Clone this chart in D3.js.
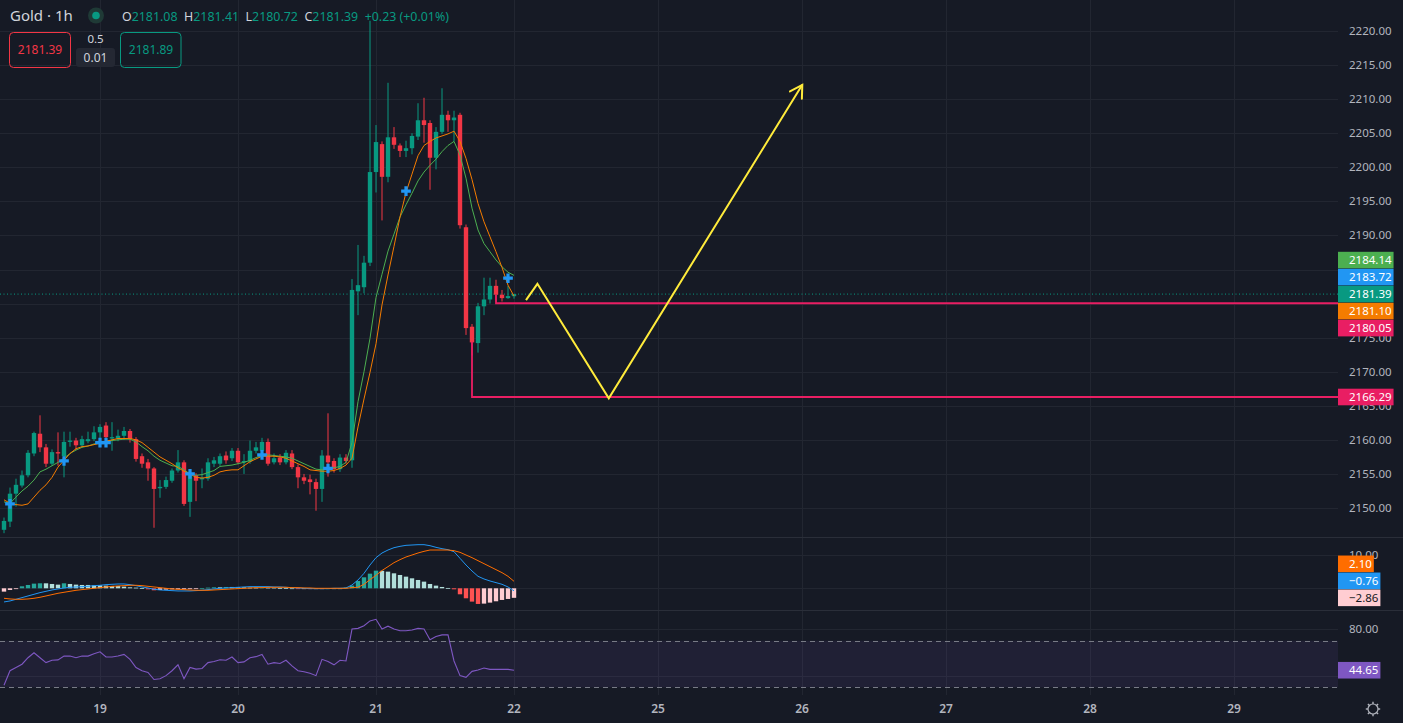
<!DOCTYPE html>
<html>
<head>
<meta charset="utf-8">
<script src="https://cdn.jsdelivr.net/npm/d3@7"></script>
<style>
  html, body { margin: 0; padding: 0; background: #161A25; overflow: hidden; }
  text { font-family: "Noto Sans", "Open Sans", sans-serif; }
</style>
</head>
<body>
<script>
// ---- data (hourly bars, index 0 = first visible bar) ----
var dayLabels = ["19", "20", "21", "22", "25", "26", "27", "28", "29"];
var dayBarIdx = [16, 39, 62, 85, 109, 133, 157, 181, 205];

var open = [2146.8, 2148.0, 2152.1, 2153.3, 2154.8, 2158.0, 2160.9, 2158.9, 2156.5, 2158.2,
  2157.6, 2159.7, 2159.9, 2159.2, 2159.8, 2160.1, 2161.1, 2162.1, 2160.2, 2160.2,
  2160.6, 2161.3, 2160.1, 2157.6, 2156.7, 2155.8, 2152.9, 2153.1, 2154.0, 2155.5,
  2156.7, 2150.9, 2154.8, 2154.2, 2154.3, 2156.5, 2156.5, 2157.7, 2157.3, 2158.4,
  2156.7, 2156.8, 2158.4, 2158.4, 2159.7, 2156.7, 2157.4, 2156.7, 2158.0, 2156.0,
  2154.5, 2154.2, 2153.8, 2152.8, 2157.7, 2156.9, 2155.7, 2157.4, 2157.0, 2181.8,
  2182.4, 2186.0, 2199.3, 2203.4, 2198.6, 2204.4, 2203.2, 2202.4, 2202.8, 2204.5,
  2206.9, 2206.5, 2201.4, 2205.2, 2207.7, 2206.9, 2207.7, 2191.2, 2176.6, 2174.2,
  2179.6, 2180.6, 2182.6, 2181.3, 2180.8, 2181.08];
var high = [2148.6, 2153.0, 2154.3, 2155.5, 2158.5, 2161.2, 2163.6, 2159.4, 2158.6, 2161.1,
  2161.2, 2161.2, 2160.3, 2160.6, 2161.2, 2162.0, 2162.3, 2162.6, 2162.6, 2161.5,
  2161.9, 2161.6, 2160.4, 2158.0, 2157.2, 2156.0, 2154.1, 2154.6, 2155.8, 2158.5,
  2157.0, 2155.5, 2155.1, 2155.8, 2157.3, 2157.5, 2158.0, 2158.3, 2158.8, 2158.8,
  2157.9, 2159.9, 2159.7, 2160.3, 2160.2, 2158.0, 2157.9, 2158.5, 2158.5, 2156.4,
  2155.0, 2154.9, 2154.3, 2158.5, 2163.9, 2157.3, 2157.9, 2157.9, 2183.6, 2188.6,
  2187.0, 2221.5, 2206.2, 2203.8, 2212.4, 2205.9, 2203.5, 2203.9, 2205.0, 2209.4,
  2210.2, 2206.9, 2205.9, 2211.6, 2208.3, 2208.3, 2208.0, 2191.6, 2177.0, 2180.1,
  2183.8, 2183.8, 2183.5, 2182.0, 2182.6, 2181.41];
var low = [2146.3, 2147.2, 2150.2, 2153.0, 2154.5, 2157.6, 2158.2, 2156.0, 2156.2, 2156.2,
  2154.5, 2159.0, 2158.5, 2158.9, 2159.5, 2159.8, 2159.5, 2159.6, 2158.4, 2159.8,
  2160.0, 2159.6, 2156.8, 2155.9, 2154.0, 2147.1, 2151.5, 2152.8, 2153.7, 2155.2,
  2150.3, 2148.7, 2151.0, 2152.9, 2154.0, 2156.0, 2156.2, 2156.5, 2156.9, 2156.4,
  2155.0, 2156.5, 2158.0, 2157.7, 2156.2, 2156.4, 2156.3, 2156.4, 2155.7, 2152.9,
  2153.5, 2152.0, 2149.6, 2150.9, 2154.6, 2155.2, 2155.3, 2156.5, 2155.9, 2178.3,
  2181.5, 2185.5, 2196.3, 2192.2, 2197.8, 2202.7, 2201.5, 2201.5, 2201.9, 2204.0,
  2203.6, 2196.7, 2199.7, 2204.9, 2205.2, 2203.8, 2191.0, 2175.4, 2172.4, 2172.8,
  2178.3, 2180.0, 2180.3, 2180.3, 2180.7, 2180.72];
var close = [2148.1, 2152.1, 2153.4, 2154.8, 2158.1, 2161.0, 2158.9, 2156.5, 2158.2, 2158.0,
  2159.7, 2159.9, 2159.2, 2160.1, 2160.1, 2161.1, 2161.9, 2160.4, 2160.4, 2160.6,
  2161.3, 2160.1, 2157.2, 2156.5, 2155.8, 2152.8, 2153.1, 2154.1, 2155.5, 2156.7,
  2150.6, 2155.0, 2154.0, 2154.4, 2156.7, 2157.0, 2157.6, 2157.0, 2158.4, 2156.7,
  2156.9, 2158.4, 2158.9, 2159.7, 2156.5, 2157.3, 2156.7, 2158.1, 2156.0, 2154.5,
  2154.0, 2153.8, 2152.8, 2157.7, 2156.7, 2155.7, 2157.4, 2156.9, 2182.0, 2182.7,
  2186.0, 2199.3, 2203.7, 2198.6, 2204.4, 2203.3, 2202.4, 2202.8, 2204.6, 2206.9,
  2206.2, 2201.4, 2205.2, 2207.7, 2206.9, 2207.3, 2191.5, 2176.4, 2174.3, 2179.6,
  2180.6, 2182.6, 2181.3, 2180.8, 2181.1, 2181.39];

var maGreen = [2150.9, 2150.7, 2151.6, 2152.5, 2153.2, 2154.1, 2155.3, 2155.7, 2156.2, 2156.7,
  2157.3, 2158.0, 2158.5, 2158.9, 2159.1, 2159.4, 2159.6, 2159.8, 2159.9, 2160.0,
  2160.1, 2160.1, 2159.7, 2159.0, 2158.4, 2157.6, 2157.0, 2156.6, 2156.2, 2156.1,
  2155.6, 2155.0, 2154.8, 2154.9, 2155.2, 2155.5, 2156.1, 2156.2, 2156.3, 2156.5,
  2156.7, 2157.0, 2157.4, 2157.7, 2157.8, 2157.7, 2157.6, 2157.5, 2157.3, 2156.9,
  2156.5, 2156.1, 2155.7, 2155.6, 2155.8, 2155.9, 2156.1, 2156.7, 2159.6, 2165.6,
  2170.0, 2174.9, 2180.9, 2184.3, 2187.7, 2190.2, 2192.7, 2194.5, 2196.2, 2198.0,
  2199.3, 2200.3, 2201.2, 2202.3, 2203.2, 2203.8, 2201.8, 2198.4, 2194.0, 2190.8,
  2188.8, 2187.6, 2186.4, 2185.4, 2184.6, 2184.14];
var maOrange = [2151.2, 2150.7, 2150.5, 2150.4, 2150.6, 2151.6, 2152.6, 2153.4, 2154.5, 2156.0,
  2157.0, 2158.0, 2158.7, 2159.0, 2159.1, 2159.3, 2159.5, 2159.8, 2160.0, 2160.2,
  2160.2, 2160.2, 2160.0, 2159.6, 2158.9, 2158.2, 2157.5, 2157.0, 2156.5, 2155.9,
  2155.4, 2155.0, 2154.5, 2154.4, 2154.5, 2154.8, 2155.3, 2155.5, 2155.6, 2155.6,
  2156.2, 2156.8, 2157.2, 2157.6, 2157.6, 2157.6, 2157.5, 2157.3, 2156.9, 2156.5,
  2156.1, 2155.6, 2155.5, 2155.4, 2155.4, 2155.5, 2155.8, 2156.3, 2157.3, 2161.9,
  2166.0, 2169.9, 2174.1, 2179.8, 2184.2, 2188.4, 2192.7, 2196.3, 2199.0, 2201.7,
  2203.2, 2203.8, 2204.3, 2204.6, 2204.9, 2205.3, 2203.8, 2201.3, 2198.2, 2194.7,
  2192.0, 2189.8, 2187.6, 2185.3, 2182.7, 2181.10];

var crossIdx = [1, 10, 16, 17, 31, 43, 54, 67, 84];
var crossPrice = [2150.6, 2156.9, 2159.6, 2159.6, 2155.0, 2157.8, 2155.8, 2196.5, 2183.72];

var levelPrice = [2166.29, 2180.05];
var levelFromIdx = [78, 82];
var levelFromPrice = [2174.4, 2181.3];

var pathIdx = [87, 88.9, 100.8, 133.05];
var pathPrice = [2180.5, 2182.9, 2166.1, 2212.1];

var macdLine = [-4.1, -3.8, -3.3, -2.8, -2.3, -1.8, -1.3, -0.9, -0.5, -0.2,
  0.1, 0.3, 0.4, 0.5, 0.6, 0.8, 0.9, 1.1, 1.2, 1.3,
  1.3, 1.1, 0.8, 0.4, 0.1, -0.3, -0.5, -0.6, -0.7, -0.8,
  -0.8, -0.8, -0.7, -0.6, -0.4, -0.2, 0.0, 0.1, 0.2, 0.3,
  0.4, 0.5, 0.5, 0.5, 0.5, 0.4, 0.4, 0.3, 0.2, 0.1,
  0.0, -0.1, -0.1, -0.1, -0.1, 0.0, 0.0, 0.1, 1.0, 2.5,
  4.5, 7.0, 9.2, 10.6, 11.5, 12.2, 12.6, 12.9, 13.0, 13.1,
  13.1, 12.8, 12.3, 11.9, 11.6, 11.0, 9.0, 7.0, 5.2, 3.6,
  2.8, 2.2, 1.7, 1.2, 0.4, -0.76];
var signalLine = [-3.0, -3.2, -3.3, -3.3, -3.2, -3.0, -2.7, -2.3, -1.9, -1.5,
  -1.2, -0.9, -0.6, -0.4, -0.2, 0.0, 0.2, 0.4, 0.6, 0.7,
  0.8, 0.9, 0.9, 0.8, 0.6, 0.4, 0.2, 0.0, -0.2, -0.3,
  -0.4, -0.5, -0.6, -0.6, -0.6, -0.5, -0.4, -0.3, -0.2, -0.1,
  0.0, 0.1, 0.2, 0.2, 0.3, 0.3, 0.3, 0.3, 0.2, 0.2,
  0.1, 0.1, 0.0, 0.0, 0.0, 0.0, 0.0, 0.0, 0.2, 0.3,
  1.2, 2.6, 3.9, 5.35, 6.5, 7.7, 8.6, 9.4, 10.0, 10.6,
  11.1, 11.5, 11.5, 11.5, 11.5, 11.3, 10.8, 10.0, 9.2, 8.3,
  7.4, 6.5, 5.6, 4.7, 3.6, 2.10];
var histValues = [-1.0, -0.5, -0.1, 0.6, 1.0, 1.4, 1.5, 1.5, 1.3, 1.1,
  1.5, 1.3, 1.1, 1.0, 1.0, 0.9, 0.9, 0.8, 0.7, 0.7,
  0.5, 0.3, 0.2, 0.1, -0.3, -0.6, -0.5, -0.4, -0.3, -0.3,
  -0.3, -0.2, -0.1, 0.0, 0.2, 0.3, 0.3, 0.4, 0.4, 0.3,
  0.3, 0.2, 0.2, 0.3, 0.2, 0.2, 0.1, 0.1, 0.0, -0.1,
  -0.1, -0.2, -0.1, -0.1, 0.0, 0.0, 0.0, 0.2, 0.8, 2.2,
  3.3, 4.4, 5.3, 5.25, 5.0, 4.5, 4.0, 3.5, 3.0, 2.5,
  2.0, 1.3, 0.8, 0.4, 0.1, -0.3, -1.8, -3.0, -4.0, -4.7,
  -4.6, -4.3, -3.9, -3.5, -3.2, -2.86];

var rsiValues = [31.7, 44.2, 47.0, 49.8, 55.4, 59.6, 55.4, 51.2, 53.2, 53.5,
  56.8, 56.8, 55.4, 56.8, 56.8, 58.8, 60.5, 56.0, 56.0, 56.8,
  58.2, 54.0, 47.0, 44.2, 42.8, 36.7, 37.3, 40.0, 44.2, 49.3,
  37.3, 47.0, 45.6, 46.2, 51.2, 52.1, 53.7, 53.2, 56.0, 51.2,
  51.8, 55.4, 56.3, 58.2, 49.8, 51.2, 50.4, 53.2, 48.4, 44.2,
  43.4, 42.0, 40.0, 54.0, 52.1, 49.3, 53.2, 52.6, 80.0, 80.6,
  82.8, 87.0, 88.4, 80.0, 82.5, 80.0, 78.6, 78.6, 79.2, 80.6,
  80.0, 70.8, 73.6, 75.0, 75.0, 52.6, 40.0, 38.6, 43.7, 44.8,
  46.5, 45.4, 45.4, 45.4, 45.4, 44.65];

var priceTicks = d3.range(2150, 2221, 5);
var macdTicks = [0, 10];
var rsiTicks = [40, 80];
var rsiBands = [30, 70];

var symbolName = "Gold · 1h";
var changeText = "+0.23 (+0.01%)";
var bidPrice = 2181.39, askPrice = 2181.89;
var spreadTop = "0.5", spreadBottom = "0.01";

// ---- layout ----
var W = 1403, H = 723, plotR = 1338;
var C = { bg: "#161A25", grid: "#222631", sep: "#2A2E39", text: "#B2B5BE", head: "#D1D4DC",
  up: "#089981", down: "#F23645", green: "#4CAF50", orange: "#F57C00", blue: "#2196F3",
  pink: "#E91E63", yellow: "#FFEB3B", macdSig: "#FF6D00", rsi: "#7E57C2" };

var x = d3.scaleLinear().domain([0, 205]).range([4, 1234]);
var y = d3.scaleLinear().domain([2150, 2220]).range([508, 31]);
var yM = d3.scaleLinear().domain([0, 10]).range([588.3, 555]);
var yR = d3.scaleLinear().domain([30, 70]).range([687.3, 640.7]);
var fmt = d3.format(".2f");
function lbl(v) { return fmt(v).replace("-", "\u2212"); }

var svg = d3.select("body").append("svg").attr("width", W).attr("height", H);
svg.append("rect").attr("width", W).attr("height", H).attr("fill", C.bg);

var defs = svg.append("defs");
defs.append("clipPath").attr("id", "cMain").append("rect").attr("width", plotR).attr("height", 537);
defs.append("clipPath").attr("id", "cMacd").append("rect").attr("y", 538).attr("width", plotR).attr("height", 72);
defs.append("clipPath").attr("id", "cRsi").append("rect").attr("y", 611).attr("width", plotR).attr("height", 84);

// grid
var grid = svg.append("g").attr("stroke", C.grid).attr("stroke-width", 1);
grid.selectAll(".v").data(dayBarIdx).enter().append("line")
  .attr("x1", function(d) { return Math.round(x(d)) + 0.5; }).attr("x2", function(d) { return Math.round(x(d)) + 0.5; })
  .attr("y1", 0).attr("y2", 695);
function hGrid(ticks, sc) {
  grid.selectAll(null).data(ticks).enter().append("line")
    .attr("x1", 0).attr("x2", plotR)
    .attr("y1", function(d) { return Math.round(sc(d)) + 0.5; }).attr("y2", function(d) { return Math.round(sc(d)) + 0.5; });
}
hGrid(priceTicks, y);
hGrid(macdTicks, yM);
hGrid(rsiTicks, yR);

// pane separators
svg.selectAll(".sep").data([537.5, 610.5]).enter().append("line")
  .attr("x1", 0).attr("x2", W).attr("y1", function(d) { return d; }).attr("y2", function(d) { return d; })
  .attr("stroke", C.sep).attr("stroke-width", 1);

// ---- main pane ----
var main = svg.append("g").attr("clip-path", "url(#cMain)");
var bars = d3.range(close.length).map(function(i) {
  return { i: i, o: open[i], h: high[i], l: low[i], c: close[i] };
});
var last = close.length - 1;

// current price dotted line
main.append("line").attr("x1", 0).attr("x2", plotR)
  .attr("y1", y(close[last])).attr("y2", y(close[last]))
  .attr("stroke", C.up).attr("stroke-dasharray", "1,2.5").attr("stroke-width", 1);

main.selectAll(".wick").data(bars).enter().append("line")
  .attr("x1", function(d) { return x(d.i); }).attr("x2", function(d) { return x(d.i); })
  .attr("y1", function(d) { return y(d.h); }).attr("y2", function(d) { return y(d.l); })
  .attr("stroke", function(d) { return d.c >= d.o ? C.up : C.down; }).attr("stroke-width", 1);
main.selectAll(".body").data(bars).enter().append("rect")
  .attr("x", function(d) { return x(d.i) - 2.2; }).attr("width", 4.4)
  .attr("y", function(d) { return y(Math.max(d.o, d.c)); })
  .attr("height", function(d) { return Math.max(1, Math.abs(y(d.o) - y(d.c))); })
  .attr("fill", function(d) { return d.c >= d.o ? C.up : C.down; });

var lineP = d3.line().x(function(d, i) { return x(i); }).y(function(d) { return y(d); });
main.append("path").attr("d", lineP(maGreen)).attr("fill", "none").attr("stroke", C.green).attr("stroke-width", 1);
main.append("path").attr("d", lineP(maOrange)).attr("fill", "none").attr("stroke", C.orange).attr("stroke-width", 1);

main.selectAll(".cross").data(crossIdx).enter().append("path")
  .attr("d", d3.symbol().type(d3.symbolCross).size(52))
  .attr("transform", function(d, j) { return "translate(" + x(d) + "," + y(crossPrice[j]) + ")"; })
  .attr("fill", C.blue);

// level lines drawn by hand on the chart
levelPrice.forEach(function(p, j) {
  var pts = [[x(levelFromIdx[j]), y(levelFromPrice[j])], [x(levelFromIdx[j]), y(p)], [plotR, y(p)]];
  main.append("path").attr("d", d3.line()(pts)).attr("fill", "none")
    .attr("stroke", C.pink).attr("stroke-width", 1.8);
});

// projected path with arrow
var proj = pathIdx.map(function(d, j) { return [x(d), y(pathPrice[j])]; });
main.append("path").attr("d", d3.line()(proj)).attr("fill", "none")
  .attr("stroke", C.yellow).attr("stroke-width", 2).attr("stroke-linejoin", "miter");
(function() {
  var a = proj[proj.length - 2], b = proj[proj.length - 1];
  var ang = Math.atan2(a[1] - b[1], a[0] - b[0]), len = 14;
  var arms = [ang + Math.PI / 6, ang - Math.PI / 6].map(function(t) {
    return [b[0] + len * Math.cos(t), b[1] + len * Math.sin(t)];
  });
  main.append("path").attr("d", d3.line()([arms[0], b, arms[1]])).attr("fill", "none")
    .attr("stroke", C.yellow).attr("stroke-width", 2).attr("stroke-linecap", "round");
})();

// ---- MACD pane ----
var macdG = svg.append("g").attr("clip-path", "url(#cMacd)");
macdG.selectAll(".hist").data(histValues).enter().append("rect")
  .attr("x", function(d, i) { return x(i) - 2.2; }).attr("width", 4.4)
  .attr("y", function(d) { return Math.min(yM(d), yM(0)); })
  .attr("height", function(d) { return Math.max(0.8, Math.abs(yM(d) - yM(0))); })
  .attr("fill", function(d, i) {
    var prev = i > 0 ? histValues[i - 1] : d;
    if (d >= 0) return d > prev ? "#26A69A" : "#B2DFDB";
    return d < prev ? "#FF5252" : "#FFCDD2";
  });
var lineM = d3.line().x(function(d, i) { return x(i); }).y(function(d) { return yM(d); });
macdG.append("path").attr("d", lineM(macdLine)).attr("fill", "none").attr("stroke", C.blue).attr("stroke-width", 1);
macdG.append("path").attr("d", lineM(signalLine)).attr("fill", "none").attr("stroke", C.macdSig).attr("stroke-width", 1);

// ---- RSI pane ----
var rsiG = svg.append("g").attr("clip-path", "url(#cRsi)");
rsiG.append("rect").attr("x", 0).attr("width", plotR)
  .attr("y", yR(rsiBands[1])).attr("height", yR(rsiBands[0]) - yR(rsiBands[1]))
  .attr("fill", C.rsi).attr("fill-opacity", 0.1);
rsiG.selectAll(".band").data(rsiBands).enter().append("line")
  .attr("x1", 0).attr("x2", plotR)
  .attr("y1", function(d) { return Math.round(yR(d)) + 0.5; }).attr("y2", function(d) { return Math.round(yR(d)) + 0.5; })
  .attr("stroke", "#787B86").attr("stroke-dasharray", "5,4");
rsiG.append("path")
  .attr("d", d3.line().x(function(d, i) { return x(i); }).y(function(d) { return yR(d); })(rsiValues))
  .attr("fill", "none").attr("stroke", C.rsi).attr("stroke-width", 1.1);

// ---- coloured value labels: resolve positions first ----
function placeLabels(items, anchor) {
  items.forEach(function(d) { d.py = d.y0; });
  for (var j = anchor - 1; j >= 0; j--) items[j].py = Math.min(items[j].y0, items[j + 1].py - 17);
  for (var k = anchor + 1; k < items.length; k++) items[k].py = Math.max(items[k].y0, items[k - 1].py + 17);
  return items;
}
var mainLabels = placeLabels([
  { v: maGreen[last], y0: y(maGreen[last]), color: C.green },
  { v: crossPrice[crossPrice.length - 1], y0: y(crossPrice[crossPrice.length - 1]), color: C.blue },
  { v: close[last], y0: y(close[last]), color: C.up },
  { v: maOrange[last], y0: y(maOrange[last]), color: C.orange },
  { v: levelPrice[1], y0: y(levelPrice[1]), color: C.pink },
  { v: levelPrice[0], y0: y(levelPrice[0]), color: C.pink }
], 2);
var macdLabels = placeLabels([
  { v: signalLine[last], y0: yM(signalLine[last]), color: C.macdSig },
  { v: macdLine[last], y0: yM(macdLine[last]), color: C.blue },
  { v: histValues[last], y0: yM(histValues[last]), color: "#FFCDD2", tc: "#131722" }
], 2);
var rsiLabels = placeLabels([{ v: rsiValues[last], y0: yR(rsiValues[last]), color: C.rsi }], 0);

// ---- right axis tick labels (the ones mostly hidden by a value label are dropped) ----
var axisT = svg.append("g").attr("font-size", "11.5px").attr("fill", C.text);
function tickLabels(ticks, sc, labels) {
  var shown = ticks.filter(function(t) {
    return labels.every(function(l) { return Math.abs(l.py - sc(t)) > 8.5; });
  });
  axisT.selectAll(null).data(shown).enter().append("text")
    .attr("x", 1349).attr("y", function(d) { return sc(d); }).attr("dy", "0.35em")
    .text(function(d) { return fmt(d); });
}
tickLabels(priceTicks, y, mainLabels);
tickLabels(macdTicks, yM, macdLabels);
tickLabels(rsiTicks, yR, rsiLabels);

function drawLabels(items) {
  var g = svg.append("g").attr("font-size", "11.5px");
  items.forEach(function(d) {
    var r = g.append("rect").attr("x", 1338).attr("y", d.py - 8.3).attr("height", 16.6).attr("fill", d.color);
    var t = g.append("text").attr("x", 1349).attr("y", d.py).attr("dy", "0.36em")
      .attr("fill", d.tc || "#FFFFFF").text(lbl(d.v));
    r.attr("width", t.node().getComputedTextLength() + 13);
  });
}
drawLabels(mainLabels);
drawLabels(macdLabels);
drawLabels(rsiLabels);

// ---- time axis ----
svg.append("g").attr("font-size", "12px").attr("font-weight", 600).attr("fill", C.text)
  .selectAll("text").data(dayLabels).enter().append("text")
  .attr("x", function(d, i) { return x(dayBarIdx[i]); }).attr("y", 709).attr("dy", "0.36em")
  .attr("text-anchor", "middle").text(function(d) { return d; });

// settings gear
var gear = svg.append("g").attr("transform", "translate(1373,709)").attr("stroke", C.text).attr("fill", "none");
gear.append("circle").attr("r", 5).attr("stroke-width", 1.2);
gear.selectAll("line").data(d3.range(8)).enter().append("line")
  .attr("x1", function(d) { return 5 * Math.cos(d * Math.PI / 4); }).attr("y1", function(d) { return 5 * Math.sin(d * Math.PI / 4); })
  .attr("x2", function(d) { return 7.2 * Math.cos(d * Math.PI / 4); }).attr("y2", function(d) { return 7.2 * Math.sin(d * Math.PI / 4); })
  .attr("stroke-width", 1.4);

// ---- header ----
var head = svg.append("g");
head.append("text").attr("x", 10).attr("y", 21).attr("font-size", "15px").attr("fill", C.head).text(symbolName);
head.append("circle").attr("cx", 96).attr("cy", 15.5).attr("r", 8).attr("fill", "#1F3A36");
head.append("circle").attr("cx", 96).attr("cy", 15.5).attr("r", 3.8).attr("fill", C.up);
var ohlc = head.append("text").attr("x", 122).attr("y", 20.5).attr("font-size", "12.4px");
[["O", open[last]], ["H", high[last]], ["L", low[last]], ["C", close[last]]].forEach(function(p, j) {
  ohlc.append("tspan").attr("dx", j ? 6.5 : 0).attr("fill", C.head).text(p[0]);
  ohlc.append("tspan").attr("fill", C.up).text(fmt(p[1]));
});
ohlc.append("tspan").attr("dx", 6.5).attr("fill", C.up).text(changeText);

head.append("rect").attr("x", 9.5).attr("y", 32.5).attr("width", 61).attr("height", 35).attr("rx", 4)
  .attr("fill", "none").attr("stroke", C.down);
head.append("text").attr("x", 40).attr("y", 50).attr("dy", "0.36em").attr("text-anchor", "middle")
  .attr("font-size", "12px").attr("fill", C.down).text(fmt(bidPrice));
head.append("text").attr("x", 95.5).attr("y", 38.5).attr("dy", "0.36em").attr("text-anchor", "middle")
  .attr("font-size", "11.5px").attr("fill", C.head).text(spreadTop);
head.append("rect").attr("x", 76).attr("y", 48).attr("width", 39).attr("height", 19).attr("rx", 3).attr("fill", "#242833");
head.append("text").attr("x", 95.5).attr("y", 57.5).attr("dy", "0.36em").attr("text-anchor", "middle")
  .attr("font-size", "12px").attr("fill", C.head).text(spreadBottom);
head.append("rect").attr("x", 120.5).attr("y", 32.5).attr("width", 60.5).attr("height", 35).attr("rx", 4)
  .attr("fill", "none").attr("stroke", C.up);
head.append("text").attr("x", 151).attr("y", 50).attr("dy", "0.36em").attr("text-anchor", "middle")
  .attr("font-size", "12px").attr("fill", C.up).text(fmt(askPrice));
</script>
</body>
</html>
